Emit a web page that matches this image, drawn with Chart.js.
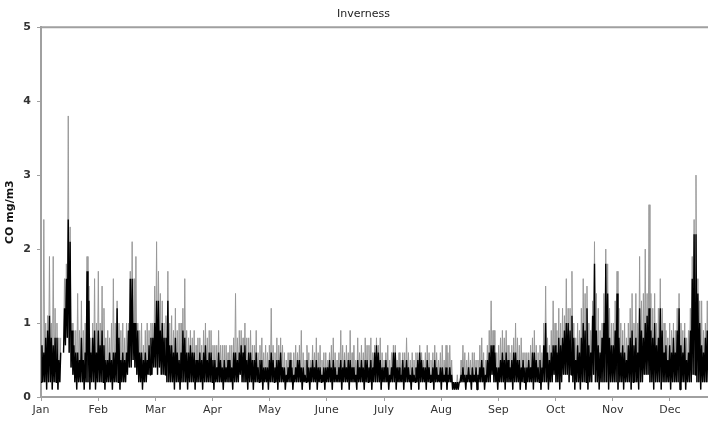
<!DOCTYPE html>
<html>
<head>
<meta charset="utf-8">
<title>Inverness CO</title>
<script src="https://cdn.jsdelivr.net/npm/chart.js@4.4.1/dist/chart.umd.min.js"></script>
<style>
  html, body { margin: 0; padding: 0; background: #fff; overflow: hidden; }
  #wrap { width: 730px; height: 421px; }
</style>
</head>
<body>
<div id="wrap"><canvas id="coChart" width="730" height="421"></canvas></div>
<script>
"use strict";

var monthLabels = ['Jan', 'Feb', 'Mar', 'Apr', 'May', 'June', 'July', 'Aug', 'Sep', 'Oct', 'Nov', 'Dec'];

// daily lowest reading, mg/m3 (null = no data)
var dailyMin = [
    0.2, 0.2, 0.2, 0.1, 0.2, 0.2, 0.1, 0.2, 0.2, 0.1, 0.2, null, 0.6, 0.7, 0.8, 0.6, 0.4, 0.3, 0.2, 0.1, 0.2, 0.2, 0.2, 0.1, 0.2, 0.2, 0.1, 0.2, 0.2, 0.1, 0.2,
    0.2, 0.2, 0.2, 0.1, 0.2, 0.2, 0.2, 0.1, 0.2, 0.2, 0.2, 0.1, 0.2, 0.2, 0.2, 0.3, 0.4, 0.4, 0.5, 0.4, 0.3, 0.2, 0.2, 0.1, 0.2, 0.2, 0.3, 0.3,
    0.3, 0.4, 0.4, 0.3, 0.4, 0.3, 0.3, 0.3, 0.2, 0.2, 0.2, 0.2, 0.1, 0.2, 0.2, 0.1, 0.2, 0.2, 0.2, 0.1, 0.2, 0.2, 0.2, 0.1, 0.2, 0.2, 0.2, 0.1, 0.2, 0.2, 0.2,
    0.2, 0.2, 0.1, 0.2, 0.2, 0.2, 0.2, 0.1, 0.2, 0.2, 0.2, 0.2, 0.1, 0.2, 0.2, 0.2, 0.3, 0.2, 0.2, 0.2, 0.1, 0.2, 0.2, 0.1, 0.2, 0.2, 0.2, 0.2, 0.1, 0.2,
    0.2, 0.1, 0.2, 0.2, 0.2, 0.2, 0.1, 0.2, 0.2, 0.2, 0.1, 0.2, 0.2, 0.2, 0.1, 0.2, 0.2, 0.2, 0.2, 0.1, 0.2, 0.2, 0.2, 0.1, 0.2, 0.2, 0.2, 0.1, 0.2, 0.2, 0.2,
    0.1, 0.2, 0.2, 0.2, 0.1, 0.2, 0.2, 0.2, 0.2, 0.1, 0.2, 0.2, 0.2, 0.1, 0.2, 0.2, 0.2, 0.1, 0.2, 0.2, 0.2, 0.1, 0.2, 0.2, 0.2, 0.1, 0.2, 0.2, 0.2, 0.2,
    0.1, 0.2, 0.2, 0.2, 0.1, 0.2, 0.2, 0.2, 0.1, 0.2, 0.2, 0.2, 0.1, 0.2, 0.2, 0.2, 0.1, 0.2, 0.2, 0.2, 0.1, 0.2, 0.2, 0.2, 0.1, 0.2, 0.2, 0.2, 0.1, 0.2, 0.2,
    0.2, 0.1, 0.2, 0.2, 0.1, 0.2, 0.2, 0.1, 0.1, 0.1, 0.1, 0.2, 0.2, 0.2, 0.1, 0.2, 0.2, 0.1, 0.2, 0.2, 0.1, 0.2, 0.2, 0.2, 0.1, 0.2, 0.2, 0.2, 0.3, 0.2, 0.2,
    0.1, 0.2, 0.2, 0.2, 0.1, 0.2, 0.2, 0.2, 0.1, 0.2, 0.2, 0.2, 0.1, 0.2, 0.2, 0.1, 0.2, 0.2, 0.2, 0.1, 0.2, 0.2, 0.2, 0.1, 0.2, 0.2, 0.2, 0.1, 0.2, 0.2,
    0.3, 0.2, 0.2, 0.1, 0.2, 0.3, 0.3, 0.3, 0.2, 0.3, 0.2, 0.1, 0.2, 0.2, 0.1, 0.2, 0.2, 0.2, 0.1, 0.2, 0.2, 0.3, 0.2, 0.2, 0.1, 0.2, 0.2, 0.2, 0.2, 0.1, 0.2,
    0.2, 0.2, 0.2, 0.1, 0.2, 0.2, 0.1, 0.2, 0.2, 0.2, 0.1, 0.2, 0.2, 0.2, 0.1, 0.2, 0.2, 0.3, 0.3, 0.3, 0.2, 0.2, 0.1, 0.2, 0.2, 0.2, 0.1, 0.2, 0.2, 0.2,
    0.2, 0.1, 0.2, 0.2, 0.2, 0.2, 0.1, 0.2, 0.2, 0.1, 0.2, 0.2, 0.2, 0.3, 0.3, 0.2, 0.2, 0.1, 0.2, 0.2, 0.2, 0.2, 0.1, 0.2, 0.2, 0.2, 0.1, 0.2, 0.2, 0.2, 0.2
];

// level the readings sit at for most of the day
var dailyTypical = [
    0.7, 0.6, 0.8, 0.9, 1.1, 0.8, 0.7, 0.8, 0.8, 0.5, 0.6, null, 1.2, 1.6, 2.4, 2.1, 0.9, 0.7, 0.6, 0.6, 0.5, 0.8, 0.5, 0.6, 1.7, 1.3, 0.6, 0.8, 0.9, 0.6, 0.9,
    0.7, 0.9, 0.7, 0.5, 0.5, 0.6, 0.5, 0.6, 0.6, 1.2, 0.8, 0.5, 0.6, 0.5, 0.6, 0.9, 1.6, 1.6, 1.0, 1.0, 0.9, 0.6, 0.6, 0.5, 0.6, 0.5, 0.7, 0.8,
    0.8, 1.0, 1.3, 1.3, 0.9, 1.0, 0.8, 0.8, 1.3, 0.7, 0.7, 0.6, 0.8, 0.6, 0.5, 0.6, 0.9, 0.8, 0.6, 0.6, 0.7, 0.6, 0.6, 0.5, 0.5, 0.6, 0.5, 0.6, 0.7, 0.5, 0.6,
    0.6, 0.5, 0.5, 0.4, 0.6, 0.5, 0.4, 0.5, 0.4, 0.5, 0.5, 0.4, 0.6, 0.6, 0.5, 0.6, 0.7, 0.6, 0.7, 0.5, 0.6, 0.6, 0.5, 0.5, 0.6, 0.4, 0.5, 0.5, 0.4, 0.4,
    0.4, 0.5, 0.6, 0.5, 0.4, 0.5, 0.5, 0.6, 0.4, 0.4, 0.3, 0.4, 0.5, 0.4, 0.3, 0.4, 0.5, 0.5, 0.4, 0.4, 0.3, 0.5, 0.4, 0.4, 0.5, 0.4, 0.5, 0.4, 0.4, 0.3, 0.4,
    0.4, 0.4, 0.5, 0.4, 0.5, 0.4, 0.3, 0.4, 0.5, 0.4, 0.5, 0.4, 0.5, 0.5, 0.4, 0.4, 0.3, 0.5, 0.4, 0.5, 0.4, 0.5, 0.5, 0.4, 0.5, 0.4, 0.6, 0.7, 0.6, 0.5,
    0.4, 0.4, 0.5, 0.4, 0.3, 0.4, 0.6, 0.6, 0.4, 0.4, 0.3, 0.5, 0.4, 0.5, 0.4, 0.3, 0.4, 0.3, 0.4, 0.5, 0.6, 0.5, 0.4, 0.4, 0.5, 0.4, 0.3, 0.4, 0.5, 0.4, 0.3,
    0.4, 0.4, 0.3, 0.4, 0.3, 0.4, 0.3, 0.2, 0.2, 0.2, 0.2, 0.3, 0.4, 0.3, 0.3, 0.4, 0.3, 0.4, 0.3, 0.4, 0.3, 0.4, 0.5, 0.4, 0.3, 0.5, 0.6, 0.7, 0.7, 0.6, 0.4,
    0.4, 0.5, 0.6, 0.5, 0.6, 0.5, 0.4, 0.5, 0.6, 0.6, 0.5, 0.5, 0.4, 0.5, 0.4, 0.4, 0.5, 0.4, 0.6, 0.6, 0.5, 0.4, 0.5, 0.4, 0.7, 1.0, 0.6, 0.5, 0.6, 0.7,
    0.7, 0.6, 0.8, 0.7, 0.8, 0.9, 1.0, 1.0, 0.9, 1.1, 0.8, 0.5, 0.7, 0.6, 0.8, 1.0, 0.9, 1.2, 0.7, 0.6, 1.1, 1.8, 0.9, 0.7, 0.6, 0.8, 1.0, 1.8, 1.4, 0.8, 0.7,
    0.7, 0.9, 1.4, 0.8, 0.6, 0.7, 0.6, 0.5, 0.7, 0.8, 0.9, 0.7, 0.8, 0.6, 1.2, 0.9, 0.8, 1.0, 1.1, 1.2, 0.9, 0.8, 1.0, 0.7, 0.8, 1.2, 0.9, 0.6, 0.7, 0.5,
    0.7, 0.6, 0.8, 0.6, 0.9, 1.2, 0.7, 0.6, 0.8, 0.5, 0.6, 0.9, 1.6, 2.2, 2.2, 1.4, 1.0, 0.7, 0.6, 0.8, 0.9, 0.7, 0.6, 0.7, 0.6, 0.8, 0.5, 0.6, 0.7, 0.6, 0.5
];

// daily peak reading
var dailyMax = [
    0.7, 2.4, 1.0, 1.1, 1.9, 1.0, 1.9, 1.2, 1.0, 0.8, 0.8, null, 1.6, 1.8, 3.8, 2.3, 1.0, 0.9, 0.9, 1.4, 0.9, 1.3, 0.9, 1.0, 1.9, 1.5, 0.8, 1.0, 1.6, 1.0, 1.7,
    1.0, 1.5, 1.2, 0.8, 0.9, 0.8, 1.0, 1.6, 1.0, 1.3, 1.0, 0.9, 1.0, 0.8, 1.0, 1.0, 1.7, 2.1, 1.6, 1.9, 1.0, 0.9, 1.0, 0.7, 0.9, 1.0, 0.9, 1.0,
    1.0, 1.5, 2.1, 1.7, 1.4, 1.3, 1.0, 1.1, 1.7, 1.0, 1.1, 0.9, 1.2, 0.9, 1.0, 1.0, 1.2, 1.6, 0.9, 0.8, 0.9, 0.8, 0.9, 0.7, 0.8, 0.8, 0.7, 0.9, 1.0, 0.8, 0.9,
    0.9, 0.7, 0.7, 0.7, 0.9, 0.7, 0.7, 0.7, 0.7, 0.6, 0.7, 0.7, 0.8, 1.4, 0.8, 0.9, 0.9, 0.8, 1.0, 0.8, 0.8, 0.9, 0.7, 0.7, 0.9, 0.6, 0.7, 0.8, 0.6, 0.7,
    0.6, 0.7, 1.2, 0.7, 0.6, 0.8, 0.7, 0.8, 0.7, 0.6, 0.5, 0.6, 0.6, 0.5, 0.6, 0.7, 0.6, 0.7, 0.9, 0.6, 0.5, 0.7, 0.6, 0.5, 0.7, 0.6, 0.8, 0.6, 0.7, 0.5, 0.6,
    0.6, 0.5, 0.6, 0.7, 0.8, 0.6, 0.5, 0.6, 0.9, 0.7, 0.6, 0.7, 0.6, 0.9, 0.6, 0.7, 0.5, 0.8, 0.6, 0.7, 0.6, 0.8, 0.7, 0.7, 0.8, 0.6, 0.7, 0.8, 0.7, 0.8,
    0.6, 0.5, 0.6, 0.7, 0.5, 0.6, 0.7, 0.7, 0.5, 0.6, 0.5, 0.6, 0.6, 0.8, 0.6, 0.5, 0.6, 0.5, 0.6, 0.6, 0.7, 0.6, 0.5, 0.6, 0.7, 0.6, 0.5, 0.6, 0.7, 0.6, 0.5,
    0.6, 0.7, 0.5, 0.7, 0.6, 0.7, 0.5, 0.2, 0.2, 0.3, 0.2, 0.5, 0.7, 0.6, 0.5, 0.6, 0.5, 0.6, 0.6, 0.5, 0.5, 0.7, 0.8, 0.6, 0.5, 0.7, 0.9, 1.3, 0.9, 0.9, 0.6,
    0.7, 0.8, 0.9, 0.8, 0.9, 0.7, 0.6, 0.7, 0.8, 1.0, 0.8, 0.7, 0.8, 0.6, 0.6, 0.6, 0.6, 0.7, 0.8, 0.9, 0.7, 0.6, 0.7, 0.6, 1.0, 1.5, 0.8, 0.7, 0.9, 1.3,
    1.0, 0.9, 1.2, 1.0, 1.2, 1.1, 1.6, 1.2, 1.2, 1.7, 1.0, 0.8, 1.0, 0.9, 1.2, 1.6, 1.4, 1.5, 1.0, 0.9, 1.3, 2.1, 1.4, 1.2, 0.9, 1.0, 1.4, 2.0, 1.8, 1.2, 1.0,
    1.0, 1.3, 1.7, 1.2, 1.0, 0.9, 1.0, 0.8, 1.0, 1.2, 1.4, 1.0, 1.4, 1.0, 1.9, 1.3, 1.4, 2.0, 1.4, 2.6, 1.4, 1.2, 1.4, 1.0, 1.2, 1.6, 1.2, 1.0, 0.9, 0.8,
    1.0, 0.9, 1.0, 0.9, 1.2, 1.4, 1.0, 0.9, 1.0, 0.8, 0.9, 1.2, 1.9, 2.4, 3.0, 1.6, 1.3, 1.3, 0.9, 1.0, 1.3, 1.0, 0.9, 1.0, 0.9, 1.1, 0.8, 0.9, 1.0, 0.9, 0.8
];

var daysInYear = 365;
var axisGrey = '#a0a0a0';
var fontFace = "'DejaVu Sans', Verdana, sans-serif";

// each day is drawn as a low -> high stroke, so the year reads as a dense trace
function buildTrace(highs) {
    var points = [];
    dailyMin.forEach(function (low, day) {
        points.push({ x: day, y: low });
        points.push({ x: day + 0.5, y: highs[day] });
    });
    return points;
}

// Excel style frame round the plot area
var plotFrame = {
    id: 'plotFrame',
    afterDraw: function (chart) {
        var ctx = chart.ctx;
        var area = chart.chartArea;
        ctx.save();
        ctx.strokeStyle = axisGrey;
        ctx.lineWidth = 2;
        ctx.beginPath();
        ctx.moveTo(area.left, area.top);
        ctx.lineTo(area.right, area.top);
        ctx.lineTo(area.right, area.bottom);
        ctx.stroke();
        ctx.restore();
    }
};

var coChart = new Chart(document.getElementById('coChart'), {
    type: 'line',
    data: {
        datasets: [{
            label: 'CO',
            data: buildTrace(dailyTypical),
            borderColor: '#000000',
            borderWidth: 1.4,
            borderJoinStyle: 'bevel',
            pointRadius: 0,
            tension: 0,
            spanGaps: false
        }, {
            label: 'CO peaks',
            data: buildTrace(dailyMax),
            borderColor: '#999999',
            borderWidth: 1,
            borderJoinStyle: 'bevel',
            pointRadius: 0,
            tension: 0,
            spanGaps: false
        }]
    },
    options: {
        responsive: false,
        animation: false,
        devicePixelRatio: 1,
        layout: { padding: { right: 3 } },
        plugins: {
            legend: { display: false },
            tooltip: { enabled: false },
            title: {
                display: true,
                text: 'Inverness',
                color: '#222',
                font: { family: fontFace, size: 11, weight: 'normal' },
                padding: { top: 8, bottom: 6 }
            }
        },
        scales: {
            x: {
                type: 'linear',
                min: 0,
                max: daysInYear,
                afterBuildTicks: function (scale) {
                    scale.ticks = monthLabels.map(function (m, i) {
                        return { value: i * daysInYear / 12 };
                    });
                },
                afterFit: function (scale) { scale.height = 24; },
                ticks: {
                    autoSkip: false,
                    maxRotation: 0,
                    padding: 3,
                    color: '#333',
                    font: { family: fontFace, size: 11 },
                    callback: function (value, index) { return monthLabels[index]; }
                },
                grid: {
                    drawOnChartArea: false,
                    tickLength: 4,
                    color: axisGrey
                },
                border: { color: axisGrey, width: 2 }
            },
            y: {
                min: 0,
                max: 5,
                afterFit: function (scale) { scale.width = 41; },
                ticks: {
                    stepSize: 1,
                    padding: 6,
                    color: '#333',
                    font: { family: fontFace, size: 11, weight: 'bold' }
                },
                grid: {
                    drawOnChartArea: false,
                    tickLength: 4,
                    color: axisGrey
                },
                border: { color: axisGrey, width: 2 },
                title: {
                    display: true,
                    text: 'CO mg/m3',
                    color: '#111',
                    font: { family: fontFace, size: 11, weight: 'bold' },
                    padding: { top: 4, bottom: 0 }
                }
            }
        }
    },
    plugins: [plotFrame]
});
</script>
</body>
</html>
